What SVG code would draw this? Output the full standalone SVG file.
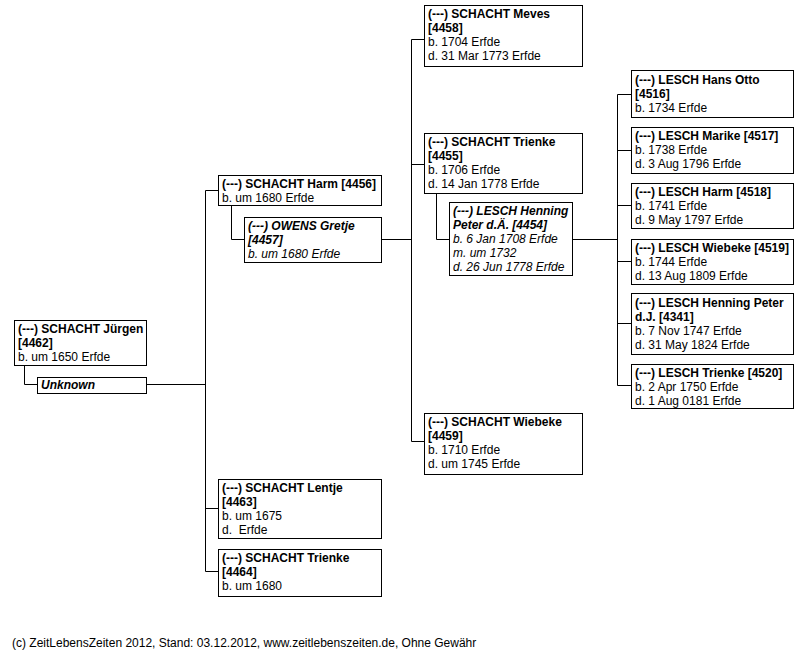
<svg xmlns="http://www.w3.org/2000/svg" width="801" height="652" viewBox="0 0 801 652">
<style>
.box{fill:#fff;stroke:#000;stroke-width:1}
.t{font-family:"Liberation Sans",Arial,sans-serif;font-size:12px;fill:#000}
.b{font-weight:bold}
.i{font-style:italic}
.c{fill:none;stroke:#000;stroke-width:1}
</style>
<rect width="801" height="652" fill="#fff"/>
<g id="connectors">
<path class="c" d="M24.5,366 V384.5 H37.5"/>
<path class="c" d="M147,384.5 H205.5"/>
<path class="c" d="M205.5,190.5 V571.5"/>
<path class="c" d="M205.5,190.5 H218"/>
<path class="c" d="M205.5,508.5 H218"/>
<path class="c" d="M205.5,571.5 H218"/>
<path class="c" d="M231.5,206 V239.5 H244"/>
<path class="c" d="M381,239.5 H411.5"/>
<path class="c" d="M411.5,39.5 V441.5"/>
<path class="c" d="M411.5,39.5 H424"/>
<path class="c" d="M411.5,164.5 H424"/>
<path class="c" d="M411.5,441.5 H424"/>
<path class="c" d="M436.5,193 V239.5 H449"/>
<path class="c" d="M572,239.5 H617.5"/>
<path class="c" d="M617.5,94.5 V385.5"/>
<path class="c" d="M617.5,94.5 H631"/>
<path class="c" d="M617.5,150.5 H631"/>
<path class="c" d="M617.5,205.5 H631"/>
<path class="c" d="M617.5,261.5 H631"/>
<path class="c" d="M617.5,323.5 H631"/>
<path class="c" d="M617.5,385.5 H631"/>
</g>
<g id="n4462">
<rect class="box" x="14.5" y="320.5" width="132" height="45"/>
<text class="t b" x="18" y="333">(---) SCHACHT Jürgen</text>
<text class="t b" x="18" y="347">[4462]</text>
<text class="t" x="18" y="361">b. um 1650 Erfde</text>
</g>
<g id="unknown">
<rect class="box" x="37.5" y="377.5" width="109" height="16"/>
<text class="t b i" x="41" y="389">Unknown</text>
</g>
<g id="n4456">
<rect class="box" x="218.5" y="175.5" width="163" height="30"/>
<text class="t b" x="222" y="188">(---) SCHACHT Harm [4456]</text>
<text class="t" x="222" y="202">b. um 1680 Erfde</text>
</g>
<g id="n4457">
<rect class="box" x="244.5" y="217.5" width="137" height="45"/>
<text class="t b i" x="248" y="230">(---) OWENS Gretje</text>
<text class="t b i" x="248" y="244">[4457]</text>
<text class="t i" x="248" y="258">b. um 1680 Erfde</text>
</g>
<g id="n4458">
<rect class="box" x="424.5" y="5.5" width="158" height="61"/>
<text class="t b" x="428" y="18">(---) SCHACHT Meves</text>
<text class="t b" x="428" y="32">[4458]</text>
<text class="t" x="428" y="46">b. 1704 Erfde</text>
<text class="t" x="428" y="60">d. 31 Mar 1773 Erfde</text>
</g>
<g id="n4455">
<rect class="box" x="424.5" y="133.5" width="158" height="60"/>
<text class="t b" x="428" y="146">(---) SCHACHT Trienke</text>
<text class="t b" x="428" y="160">[4455]</text>
<text class="t" x="428" y="174">b. 1706 Erfde</text>
<text class="t" x="428" y="188">d. 14 Jan 1778 Erfde</text>
</g>
<g id="n4454">
<rect class="box" x="449.5" y="202.5" width="123" height="73"/>
<text class="t b i" x="453" y="215">(---) LESCH Henning</text>
<text class="t b i" x="453" y="229">Peter d.Ä. [4454]</text>
<text class="t i" x="453" y="243">b. 6 Jan 1708 Erfde</text>
<text class="t i" x="453" y="257">m. um 1732</text>
<text class="t i" x="453" y="271">d. 26 Jun 1778 Erfde</text>
</g>
<g id="n4459">
<rect class="box" x="424.5" y="413.5" width="158" height="61"/>
<text class="t b" x="428" y="426">(---) SCHACHT Wiebeke</text>
<text class="t b" x="428" y="440">[4459]</text>
<text class="t" x="428" y="454">b. 1710 Erfde</text>
<text class="t" x="428" y="468">d. um 1745 Erfde</text>
</g>
<g id="n4463">
<rect class="box" x="218.5" y="479.5" width="163" height="59"/>
<text class="t b" x="222" y="492">(---) SCHACHT Lentje</text>
<text class="t b" x="222" y="506">[4463]</text>
<text class="t" x="222" y="520">b. um 1675</text>
<text class="t" x="222" y="534" xml:space="preserve">d.  Erfde</text>
</g>
<g id="n4464">
<rect class="box" x="218.5" y="549.5" width="163" height="47"/>
<text class="t b" x="222" y="562">(---) SCHACHT Trienke</text>
<text class="t b" x="222" y="576">[4464]</text>
<text class="t" x="222" y="590">b. um 1680</text>
</g>
<g id="n4516">
<rect class="box" x="631.5" y="70.5" width="162" height="47"/>
<text class="t b" x="635" y="84">(---) LESCH Hans Otto</text>
<text class="t b" x="635" y="98">[4516]</text>
<text class="t" x="635" y="112">b. 1734 Erfde</text>
</g>
<g id="n4517">
<rect class="box" x="631.5" y="127.5" width="162" height="46"/>
<text class="t b" x="635" y="140">(---) LESCH Marike [4517]</text>
<text class="t" x="635" y="154">b. 1738 Erfde</text>
<text class="t" x="635" y="168">d. 3 Aug 1796 Erfde</text>
</g>
<g id="n4518">
<rect class="box" x="631.5" y="183.5" width="162" height="45"/>
<text class="t b" x="635" y="196">(---) LESCH Harm [4518]</text>
<text class="t" x="635" y="210">b. 1741 Erfde</text>
<text class="t" x="635" y="224">d. 9 May 1797 Erfde</text>
</g>
<g id="n4519">
<rect class="box" x="631.5" y="239.5" width="162" height="45"/>
<text class="t b" x="635" y="252">(---) LESCH Wiebeke [4519]</text>
<text class="t" x="635" y="266">b. 1744 Erfde</text>
<text class="t" x="635" y="280">d. 13 Aug 1809 Erfde</text>
</g>
<g id="n4341">
<rect class="box" x="631.5" y="293.5" width="162" height="61"/>
<text class="t b" x="635" y="307">(---) LESCH Henning Peter</text>
<text class="t b" x="635" y="321">d.J. [4341]</text>
<text class="t" x="635" y="335">b. 7 Nov 1747 Erfde</text>
<text class="t" x="635" y="349">d. 31 May 1824 Erfde</text>
</g>
<g id="n4520">
<rect class="box" x="631.5" y="364.5" width="162" height="44"/>
<text class="t b" x="635" y="377">(---) LESCH Trienke [4520]</text>
<text class="t" x="635" y="391">b. 2 Apr 1750 Erfde</text>
<text class="t" x="635" y="405">d. 1 Aug 0181 Erfde</text>
</g>
<text class="t" x="12" y="647">(c) ZeitLebensZeiten 2012, Stand: 03.12.2012, www.zeitlebenszeiten.de, Ohne Gewähr</text>
</svg>
